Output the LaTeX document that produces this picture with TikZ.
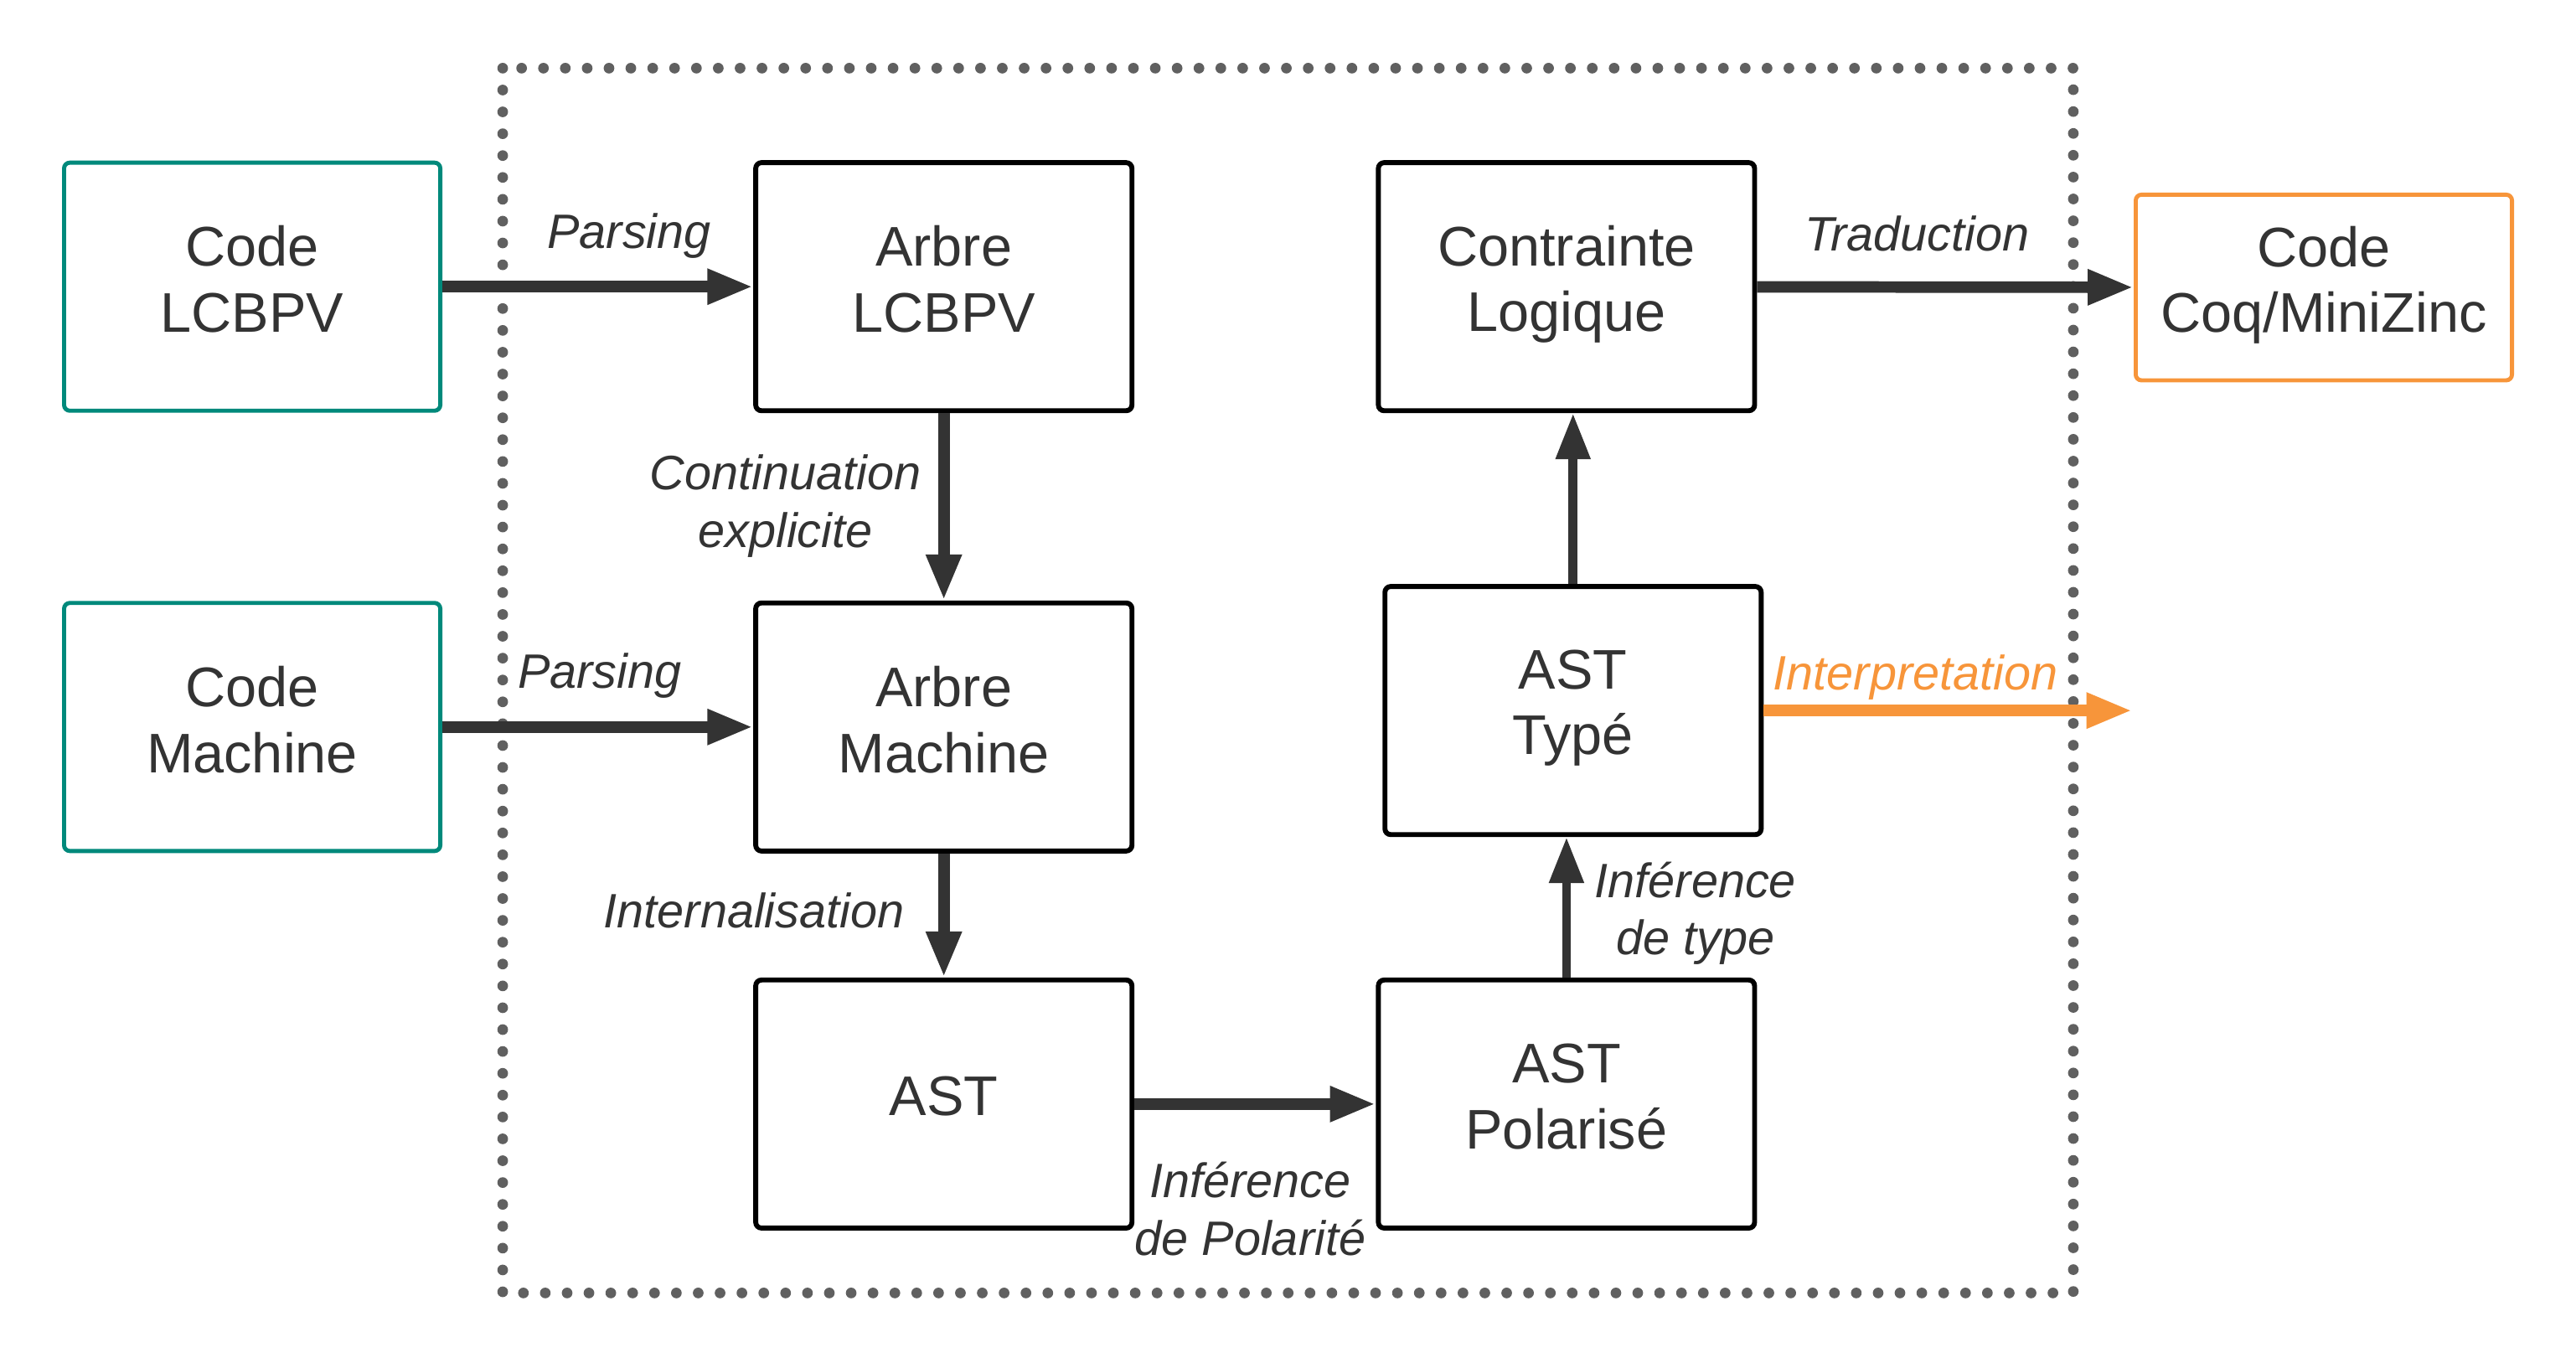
\documentclass[tikz,border=0pt]{standalone}
\usepackage{fontspec}
\setmainfont{Liberation Sans}
\usetikzlibrary{arrows.meta}
\definecolor{txt}{HTML}{333333}
\definecolor{tealc}{HTML}{00897B}
\definecolor{orangec}{HTML}{F7953A}
\definecolor{dotc}{HTML}{606060}
\begin{document}
\begin{tikzpicture}[x=1pt,y=-1pt,
  box/.style={draw=black, line width=3pt, rounded corners=3.5pt, minimum width=229pt, minimum height=151pt, inner sep=0pt},
  tbox/.style={box, draw=tealc, line width=2.5pt},
  obox/.style={box, draw=orangec, line width=2.5pt, minimum height=113pt},
  bt/.style={align=center, font=\fontsize{34}{40}\selectfont, text=txt, inner sep=0pt},
  lbl/.style={font=\fontsize{29.4}{35}\selectfont\itshape, text=txt, align=center, inner sep=0pt},
  arr/.style={draw=txt, line width=7pt, -{Triangle[length=28pt,width=20pt]}},
  dotbox/.style={draw=dotc, line width=6.5pt, line cap=round, dash pattern=on 0pt off 13.3pt}]
\useasboundingbox (0,0) rectangle (1568,829.2);
\draw[dotbox] (306,41.5) rectangle (1262,787);
\node[tbox] (clc) at (153.5,174.5) {};
\node[tbox] (cm) at (153.5,442.5) {};
\node[box] (alc) at (574.5,174.5) {};
\node[box] (am) at (574.5,442.5) {};
\node[box] (ast) at (574.5,672) {};
\node[box] (pol) at (953.5,672) {};
\node[box] (typ) at (957.5,432.5) {};
\node[box] (con) at (953.5,174.5) {};
\node[obox] (coq) at (1414.5,175) {};
\node[bt] (tclc) at ([yshift=4.5pt]clc.center) {Code\\LCBPV};
\node[bt] (tcm) at ([yshift=4.5pt]cm.center) {Code\\Machine};
\node[bt] (talc) at ([yshift=4.5pt]alc.center) {Arbre\\LCBPV};
\node[bt] (tam) at ([yshift=4.5pt]am.center) {Arbre\\Machine};
\node[bt] (tast) at ([yshift=4.5pt]ast.center) {AST};
\node[bt] (tpol) at ([yshift=4.5pt]pol.center) {AST\\Polarisé};
\node[bt] (ttyp) at ([yshift=1.5pt]typ.center) {AST\\Typé};
\node[bt] (tcon) at ([yshift=1.5pt]con.center) {Contrainte\\Logique};
\node[bt] (tcoq) at ([yshift=1.5pt]coq.center) {Code\\Coq/MiniZinc};
\coordinate (interp) at (1298,432.5);
\draw[arr] (clc) -- (alc);
\draw[arr] (cm) -- (am);
\draw[arr] (alc) -- (am);
\draw[arr] (am) -- (ast);
\draw[arr] (ast) -- (pol);
\draw[arr, line width=5.5pt] (pol.north) -- (pol.north |- typ.south);
\draw[arr, line width=5.5pt] (typ.north) -- (typ.north |- con.south);
\draw[arr] (con) -- (coq);
\draw[arr, draw=orangec, fill=orangec] (typ.east) -- (interp);
\node[lbl] (l1) at (383,143.5) {Parsing};
\node[lbl] (l2) at (365,411.5) {Parsing};
\node[lbl] (l3) at (478,308) {Continuation\\explicite};
\node[lbl] (l4) at (459,554) {Internalisation};
\node[lbl] (l5) at (761,736) {Inférence\\de Polarité};
\node[lbl] (l6) at (1032,556) {Inférence\\de type};
\node[lbl] (l7) at (1167,142) {Traduction};
\node[lbl, text=orangec] (l8) at (1166,412.5) {Interpretation};
\end{tikzpicture}
\end{document}
